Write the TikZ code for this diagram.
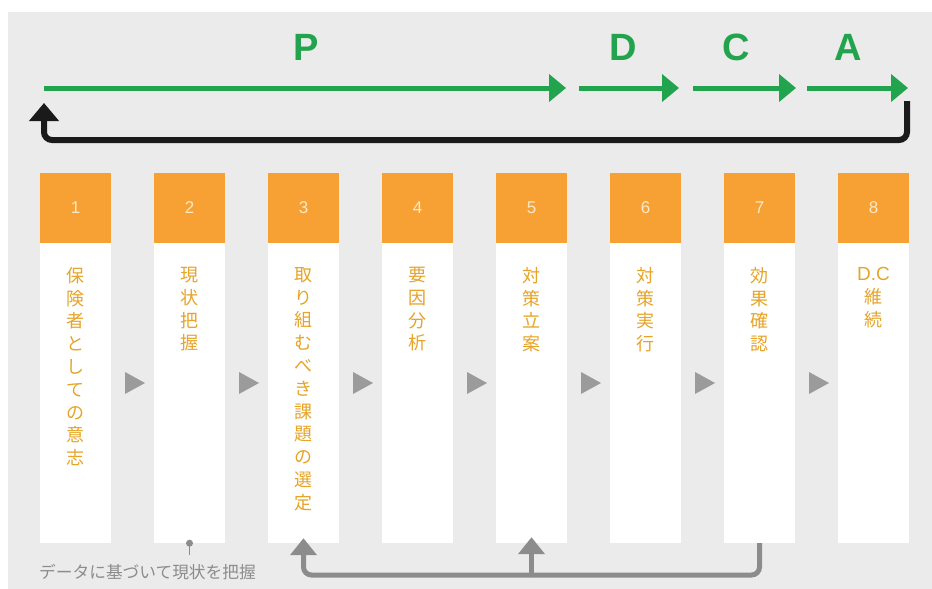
\documentclass[tikz,border=0pt]{standalone}
\usepackage{fontspec}
\setmainfont{Liberation Sans}
\newfontfamily\jp{Noto Sans CJK JP}
\usetikzlibrary{arrows.meta,calc}
\definecolor{bgc}{RGB}{235,235,235}
\definecolor{orangebox}{RGB}{247,161,52}
\definecolor{goldtext}{RGB}{230,164,40}
\definecolor{numtext}{RGB}{253,232,196}
\definecolor{pdcagreen}{RGB}{34,164,78}
\definecolor{returnblack}{RGB}{26,26,26}
\definecolor{arrowgray}{RGB}{140,140,140}
\definecolor{trigray}{RGB}{155,155,155}
\definecolor{notegray}{RGB}{140,140,140}
\tikzset{
  numbox/.style={fill=orangebox, minimum width=71pt, minimum height=70pt, inner sep=0pt,
    text=numtext, font=\fontsize{17}{17}\selectfont},
  bodybox/.style={fill=white, minimum width=71pt, minimum height=300pt, inner sep=0pt},
  vtext/.style={anchor=north, align=center, inner sep=0pt, text=goldtext,
    font=\jp\fontsize{18}{22.8}\selectfont},
  pdcalabel/.style={text=pdcagreen, font=\bfseries\fontsize{38}{38}\selectfont, inner sep=0pt},
  greenarrow/.style={draw=pdcagreen, line width=5pt, -{Triangle[length=17pt,width=27pt]}},
  returnarrow/.style={draw=returnblack, line width=6pt, rounded corners=8pt,
    -{Triangle[length=18pt,width=29pt]}},
  grayarrow/.style={draw=arrowgray, line width=5pt, rounded corners=8pt,
    -{Triangle[length=17pt,width=26pt]}},
  stepmark/.style={fill=trigray},
}
\begin{document}
\begin{tikzpicture}[x=1pt,y=-1pt]
\useasboundingbox (0,0) rectangle (932,589);
\fill[white] (0,0) rectangle (932,589);
\fill[bgc] (8,12) rectangle (932,589);

% columns
\foreach \i/\txt in {1/{保\\険\\者\\と\\し\\て\\の\\意\\志},
                     2/{現\\状\\把\\握},
                     3/{取\\り\\組\\む\\べ\\き\\課\\題\\の\\選\\定},
                     4/{要\\因\\分\\析},
                     5/{対\\策\\立\\案},
                     6/{対\\策\\実\\行},
                     7/{効\\果\\確\\認},
                     8/{{\normalfont\fontsize{19}{22.8}\selectfont D.C}\\維\\続}}{
  \pgfmathsetmacro\cx{75.5+114*(\i-1)}
  \node[numbox] (n\i) at (\cx,208) {\i};
  \node[bodybox] (b\i) at (\cx,393) {};
  \node[vtext] (v\i) at (\cx,267) {\txt};
}

% step triangles
\foreach \j in {0,...,6}{
  \pgfmathsetmacro\tx{125+114*\j}
  \fill[stepmark] (\tx,372) -- (\tx+20,383) -- (\tx,394) -- cycle;
}

% PDCA labels
\node[pdcalabel] (lp) at (306,47) {P};
\node[pdcalabel] (ld) at (623,47) {D};
\node[pdcalabel] (lc) at (736,47) {C};
\node[pdcalabel] (la) at (848,47) {A};

% green arrows
\coordinate (g0) at (44,88);
\coordinate (g1) at (566,88);
\coordinate (g2) at (579,88);
\coordinate (g3) at (679,88);
\coordinate (g4) at (693,88);
\coordinate (g5) at (796,88);
\coordinate (g6) at (807,88);
\coordinate (g7) at (908,88);
\draw[greenarrow] (g0) -- (g1);
\draw[greenarrow] (g2) -- (g3);
\draw[greenarrow] (g4) -- (g5);
\draw[greenarrow] (g6) -- (g7);

% return arrow
\coordinate (r0) at (907,101);
\coordinate (r1) at (907,140);
\coordinate (r2) at (44,140);
\coordinate (r3) at (44,103);
\draw[returnarrow] (r0) -- (r1) -- (r2) -- (r3);

% bottom gray feedback arrow
\coordinate (base) at (0,575);
\draw[grayarrow] (b7.south) -- (b7.south |- base) -- (b3.south |- base) -- ($(b3.south)+(0,-5)$);
\draw[grayarrow, rounded corners=0pt] ($(b5.south |- base)+(0,2)$) -- ($(b5.south)+(0,-6)$);

% note
\node[anchor=west, inner sep=0pt, text=notegray, font=\jp\fontsize{16.7}{16.7}\selectfont] (note) at (39,572) {データに基づいて現状を把握};
\coordinate (pin) at (189.5,555);
\draw[notegray, line width=1pt] (b2.south) -- (pin);
\fill[notegray] (b2.south) circle (3.5pt);
\end{tikzpicture}
\end{document}
